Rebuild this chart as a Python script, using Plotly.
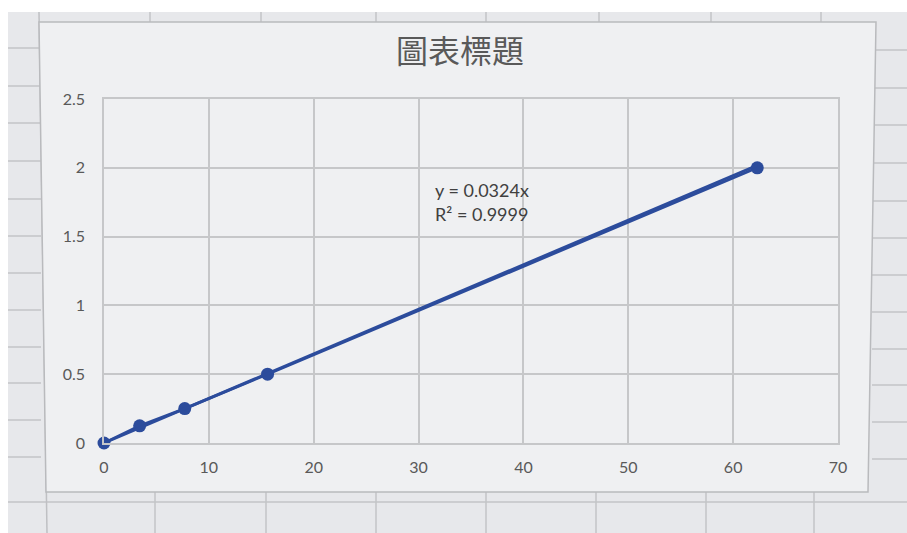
import numpy as np
import plotly.graph_objects as go

# Calibration data: concentration vs. measured response
conc = [0, 3.4, 7.7, 15.6, 62.3]
response = [0, 0.125, 0.25, 0.5, 2.0]

# Linear trendline forced through the origin
slope = 0.0324
r_squared = 0.9999

x_ticks = [0, 10, 20, 30, 40, 50, 60, 70]
y_ticks = [0, 0.5, 1, 1.5, 2, 2.5]

title_text = "圖表標題"

W, H = 907, 533
L, R, T, B = 104, 69, 99, 90
PW, PH = W - L - R, H - T - B


def px(x):
    return (x - L) / PW


def py(y):
    return (H - B - y) / PH


def path(points):
    return "M " + " L ".join(f"{px(a)},{py(b)}" for a, b in points) + " Z"


blue = "#2c4c9c"
grid = "#c6c7c9"
text_col = "#595959"
sheet_line = "#c3c4c7"

fig = go.Figure()

fig.add_trace(go.Scatter(
    x=conc, y=response, mode="lines+markers",
    line=dict(color=blue, width=2.8),
    marker=dict(color=blue, size=13),
    cliponaxis=False,
    showlegend=False, hoverinfo="x+y",
))

trend_x = np.array([0, max(conc)])
fig.add_trace(go.Scatter(
    x=trend_x, y=slope * trend_x, mode="lines",
    line=dict(color=blue, width=2.8),
    cliponaxis=False,
    showlegend=False, hoverinfo="skip",
))

shapes = []
# spreadsheet background behind the chart
shapes.append(dict(type="rect", xref="paper", yref="paper",
                   x0=px(8), x1=px(W), y0=py(H), y1=py(12),
                   fillcolor="#e7e8eb", line=dict(width=0), layer="below"))


def sheet_seg(x0, y0, x1, y1, color=sheet_line):
    shapes.append(dict(type="line", xref="paper", yref="paper",
                       x0=px(x0), x1=px(x1), y0=py(y0), y1=py(y1),
                       line=dict(color=color, width=1.5), layer="below"))


# spreadsheet row lines in the left and right margins
for yy in [48, 86, 123, 161, 199, 236, 273, 310, 347, 383, 420, 457]:
    sheet_seg(8, yy, 41, yy)
    sheet_seg(872, yy + 2, W, yy + 2)
sheet_seg(8, 502, W, 502)
# spreadsheet column lines above and below the chart
for xx in [150, 261, 376, 486, 599, 711, 821]:
    sheet_seg(xx, 12, xx, 22)
for xx in [155, 266, 376, 486, 596, 706, 814]:
    sheet_seg(xx, 492, xx, H)
sheet_seg(39, 12, 47, H, "#bfc0c3")

# chart area
shapes.append(dict(type="path", xref="paper", yref="paper",
                   path=path([(39, 22), (876, 22), (868, 492), (46, 492)]),
                   fillcolor="#eff0f2", line=dict(color="#b9babd", width=1.5),
                   layer="below"))

fig.update_layout(
    width=W, height=H,
    margin=dict(l=L, r=R, t=T, b=B),
    paper_bgcolor="white",
    plot_bgcolor="rgba(0,0,0,0)",
    shapes=shapes,
    title=dict(text=title_text, x=460 / W, xanchor="center",
               y=1 - 52 / H, yanchor="middle",
               font=dict(family="Noto Sans CJK TC", size=32, color=text_col)),
    font=dict(family="Lato, Open Sans, sans-serif", size=16, color=text_col),
    annotations=[
        dict(x=(433 - L) / (PW / 70), y=(443 - 190) / (PH / 2.5),
             xref="x", yref="y", xanchor="left", yanchor="middle",
             text=f"y = {slope}x", showarrow=False,
             font=dict(size=18, color="#404040")),
        dict(x=(433 - L) / (PW / 70), y=(443 - 214) / (PH / 2.5),
             xref="x", yref="y", xanchor="left", yanchor="middle",
             text=f"R² = {r_squared}", showarrow=False,
             font=dict(size=18, color="#404040")),
    ],
)

fig.update_xaxes(range=[0, 70], tickvals=x_ticks,
                 showgrid=True, gridcolor=grid, gridwidth=1.5,
                 showline=True, mirror=True, linecolor=grid, linewidth=1.5,
                 zeroline=False, ticks="", ticklabelstandoff=9)
fig.update_yaxes(range=[0, 2.5], tickvals=y_ticks,
                 showgrid=True, gridcolor=grid, gridwidth=1.5,
                 showline=True, mirror=True, linecolor=grid, linewidth=1.5,
                 zeroline=False, ticks="", ticklabelstandoff=14)

fig.write_html("out.html")
